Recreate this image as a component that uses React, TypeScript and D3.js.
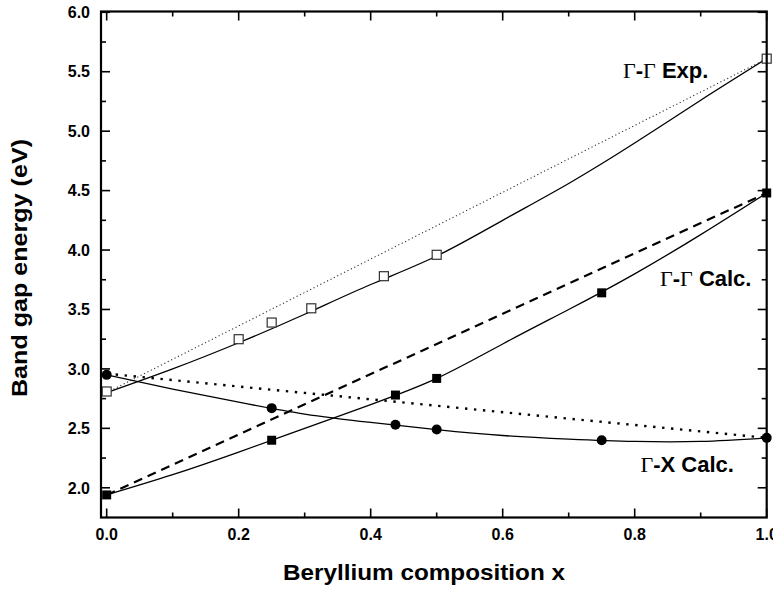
import React from "react";
import * as d3 from "d3";

// ---- Data ----
const compositions = [0, 0.25, 0.4375, 0.5, 0.75, 1.0];

// Γ-Γ experimental (open squares)
const expX = [0, 0.2, 0.25, 0.31, 0.42, 0.5, 1.0];
const expY = [2.81, 3.25, 3.39, 3.51, 3.78, 3.96, 5.61];

// Γ-Γ calculated (filled squares)
const ggCalcY = [1.94, 2.40, 2.78, 2.92, 3.64, 4.48];

// Γ-X calculated (filled circles)
const gxCalcY = [2.95, 2.67, 2.53, 2.49, 2.40, 2.42];

// Fitted curves
const fitX = [0, 0.1, 0.2, 0.3, 0.4, 0.5, 0.6, 0.7, 0.8, 0.9, 1.0];
const expFitY = [2.80, 3.00, 3.22, 3.46, 3.71, 3.95, 4.25, 4.56, 4.90, 5.26, 5.61];
const ggFitY = [1.94, 2.11, 2.30, 2.50, 2.70, 2.92, 3.21, 3.50, 3.80, 4.13, 4.48];
const gxFitY = [2.95, 2.83, 2.72, 2.62, 2.55, 2.49, 2.44, 2.41, 2.39, 2.39, 2.42];

// Straight reference lines (endpoints)
const lineX = [0, 1];
const expLineY = [2.80, 5.61];
const ggLineY = [1.94, 4.48];
const gxLineY = [2.96, 2.42];

const xTicks = [0, 0.2, 0.4, 0.6, 0.8, 1.0];
const xMinorTicks = [0.1, 0.3, 0.5, 0.7, 0.9];
const yTicks = [2.0, 2.5, 3.0, 3.5, 4.0, 4.5, 5.0, 5.5, 6.0];
const yMinorTicks = [2.25, 2.75, 3.25, 3.75, 4.25, 4.75, 5.25, 5.75];

const W = 773;
const H = 595;
const SANS = "'Liberation Sans', Arial, sans-serif";
const SERIF = "'Liberation Serif', 'Times New Roman', serif";

export default function App() {
  const x = d3.scaleLinear().domain([-0.0086, 1.0]).range([101, 766.7]);
  const y = d3.scaleLinear().domain([1.75, 6.0]).range([517.5, 12.3]);
  const left = x.range()[0];
  const right = x.range()[1];
  const top = 11.5;
  const bottom = y.range()[0];

  const pts = (xs: number[], ys: number[]) => xs.map((v, i) => [v, ys[i]] as [number, number]);
  const curve = d3
    .line<[number, number]>()
    .x((d) => x(d[0]))
    .y((d) => y(d[1]))
    .curve(d3.curveNatural);
  const straight = d3
    .line<[number, number]>()
    .x((d) => x(d[0]))
    .y((d) => y(d[1]));

  const majorLen = 9;
  const minorLen = 5;
  const sq = 9;

  return (
    <svg
      width={W}
      height={H}
      style={{ position: "absolute", left: 0, top: 0, background: "#fff" }}
      fontFamily={SANS}
    >
      <rect x={0} y={0} width={W} height={H} fill="#fff" />
      <defs>
        <clipPath id="plot">
          <rect x={left} y={top} width={right - left + 6} height={bottom - top} />
        </clipPath>
      </defs>

      {/* reference lines */}
      <g clipPath="url(#plot)" fill="none">
        <path d={straight(pts(lineX, expLineY)) || ""} stroke="#333" strokeWidth={1.1} strokeDasharray="1.2,2.6" />
        <path d={straight(pts(lineX, ggLineY)) || ""} stroke="#000" strokeWidth={2.2} strokeDasharray="9,6" />
        <path d={straight(pts(lineX, gxLineY)) || ""} stroke="#000" strokeWidth={2.4} strokeDasharray="2.4,6.6" />
        <path d={curve(pts(fitX, expFitY)) || ""} stroke="#000" strokeWidth={1.3} />
        <path d={curve(pts(fitX, ggFitY)) || ""} stroke="#000" strokeWidth={1.3} />
        <path d={curve(pts(fitX, gxFitY)) || ""} stroke="#000" strokeWidth={1.3} />
      </g>

      {/* markers */}
      <g>
        {expX.map((v, i) => (
          <rect
            key={"e" + i}
            x={x(v) - sq / 2}
            y={y(expY[i]) - sq / 2}
            width={sq}
            height={sq}
            fill="#fff"
            stroke="#333"
            strokeWidth={1.2}
          />
        ))}
        {compositions.map((v, i) => (
          <rect
            key={"g" + i}
            x={x(v) - sq / 2}
            y={y(ggCalcY[i]) - sq / 2}
            width={sq}
            height={sq}
            fill="#000"
          />
        ))}
        {compositions.map((v, i) => (
          <circle key={"c" + i} cx={x(v)} cy={y(gxCalcY[i])} r={5} fill="#000" />
        ))}
      </g>

      {/* frame */}
      <rect x={left} y={top} width={right - left} height={bottom - top} fill="none" stroke="#000" strokeWidth={2.2} />

      {/* ticks (all inward) */}
      <g stroke="#000" strokeWidth={1.6}>
        {xTicks.map((t) => (
          <g key={"xt" + t}>
            <line x1={x(t)} x2={x(t)} y1={bottom} y2={bottom - majorLen} />
            <line x1={x(t)} x2={x(t)} y1={top} y2={top + majorLen} />
          </g>
        ))}
        {xMinorTicks.map((t) => (
          <g key={"xm" + t}>
            <line x1={x(t)} x2={x(t)} y1={bottom} y2={bottom - minorLen} />
            <line x1={x(t)} x2={x(t)} y1={top} y2={top + minorLen} />
          </g>
        ))}
        {yTicks.map((t) => (
          <g key={"yt" + t}>
            <line x1={left} x2={left + majorLen} y1={y(t)} y2={y(t)} />
            <line x1={right} x2={right - majorLen} y1={y(t)} y2={y(t)} />
          </g>
        ))}
        {yMinorTicks.map((t) => (
          <g key={"ym" + t}>
            <line x1={left} x2={left + minorLen} y1={y(t)} y2={y(t)} />
            <line x1={right} x2={right - minorLen} y1={y(t)} y2={y(t)} />
          </g>
        ))}
      </g>

      {/* tick labels */}
      <g fontSize={16} fontWeight="bold" fill="#000">
        {xTicks.map((t) => (
          <text key={"xl" + t} x={x(t)} y={540} textAnchor="middle">
            {d3.format(".1f")(t)}
          </text>
        ))}
        {yTicks.map((t) => (
          <text key={"yl" + t} x={90} y={y(t)} dy="0.36em" textAnchor="end">
            {d3.format(".1f")(t)}
          </text>
        ))}
      </g>

      {/* axis titles */}
      <text
        x={424}
        y={580}
        textAnchor="middle"
        fontSize={22}
        fontWeight="bold"
        textLength={282}
        lengthAdjust="spacingAndGlyphs"
      >
        Beryllium composition x
      </text>
      <text
        transform="translate(27,268) rotate(-90)"
        x={0}
        y={0}
        textAnchor="middle"
        fontSize={22}
        fontWeight="bold"
        textLength={258}
        lengthAdjust="spacingAndGlyphs"
      >
        Band gap energy (eV)
      </text>

      {/* annotations */}
      <text x={623} y={78} fontSize={22}>
        <tspan fontFamily={SERIF}>Γ</tspan>
        <tspan fontWeight="bold">-</tspan>
        <tspan fontFamily={SERIF}>Γ</tspan>
        <tspan fontWeight="bold"> Exp.</tspan>
      </text>
      <text x={660} y={286} fontSize={22}>
        <tspan fontFamily={SERIF}>Γ</tspan>
        <tspan fontWeight="bold">-</tspan>
        <tspan fontFamily={SERIF}>Γ</tspan>
        <tspan fontWeight="bold"> Calc.</tspan>
      </text>
      <text x={640.5} y={472} fontSize={22}>
        <tspan fontFamily={SERIF}>Γ</tspan>
        <tspan fontWeight="bold">-X Calc.</tspan>
      </text>
    </svg>
  );
}
